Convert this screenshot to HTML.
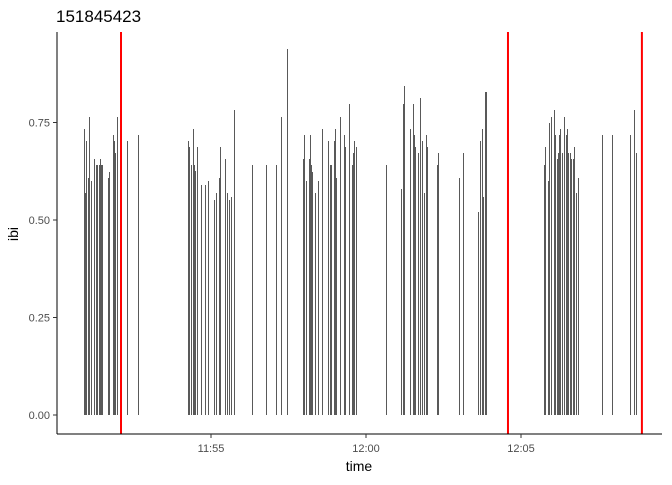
<!DOCTYPE html>
<html><head><meta charset="utf-8"><style>
body{margin:0;background:#fff;font-family:"Liberation Sans",sans-serif}
</style></head><body>
<svg id="chart" width="672" height="480">
<rect width="672" height="480" fill="#fff"/>
<text x="56" y="22" font-size="17" fill="#000">151845423</text>
<g id="bars" shape-rendering="crispEdges"></g>
<g id="vlines"></g>
<line x1="57" y1="32" x2="57" y2="434" stroke="#000" stroke-width="1"/>
<line x1="57" y1="434" x2="662" y2="434" stroke="#000" stroke-width="1"/>
<g id="yticks"></g>
<g id="xticks"></g>
<text x="359" y="471" font-size="14" text-anchor="middle" fill="#000">time</text>
<text x="18" y="234" font-size="14" text-anchor="middle" fill="#000" transform="rotate(-90 18 234)">ibi</text>
</svg>
<script>
// minutes since 11:50
const times=[0.903,0.968,1.032,1.065,1.226,1.29,1.323,1.387,1.419,1.452,1.484,1.677,1.71,1.839,1.871,1.903,1.968,2.29,2.645,
4.258,4.29,4.355,4.419,4.452,4.484,4.548,4.806,5.258,5.29,5.452,5.742,6.323,6.774,7.097,7.258,7.452,7.968,8.0,8.161,8.194,8.226,8.258,8.581,8.774,8.839,8.871,8.968,9.0,9.032,9.161,9.29,9.323,9.452,9.548,9.581,9.613,9.677,10.645,
11.194,11.226,11.419,11.516,11.548,11.581,11.677,11.742,11.806,11.935,11.968,12.29,12.323,13.0,13.129,13.677,13.742,13.839,13.871,
15.742,15.774,15.903,15.968,16.065,16.097,16.161,16.194,16.226,16.258,16.323,16.387,16.452,16.484,16.516,16.581,16.613,16.677,16.71,16.839,17.613,17.935,18.516,18.645,18.71,
0.935,1.129,4.677,4.903,5.097,5.161,5.516,5.58,5.645,8.065,8.355,8.452,11.129,11.871,13.613,13.774,15.871,16.774];
const ibi=[0.733,0.703,0.608,0.764,0.656,0.641,0.641,0.641,0.656,0.641,0.641,0.608,0.623,0.718,0.703,0.672,0.764,0.703,0.718,
0.703,0.687,0.641,0.733,0.641,0.626,0.687,0.59,0.608,0.687,0.656,0.782,0.641,0.641,0.641,0.764,0.938,0.656,0.718,0.656,0.718,0.641,0.623,0.733,0.703,0.641,0.641,0.703,0.733,0.608,0.764,0.718,0.687,0.797,0.641,0.672,0.703,0.687,0.641,
0.797,0.844,0.733,0.797,0.718,0.687,0.672,0.813,0.703,0.718,0.687,0.641,0.672,0.608,0.672,0.703,0.733,0.828,0.828,
0.641,0.687,0.749,0.764,0.782,0.718,0.656,0.672,0.718,0.733,0.672,0.764,0.718,0.733,0.672,0.672,0.656,0.656,0.687,0.608,0.718,0.718,0.718,0.782,0.672,
0.57,0.6,0.59,0.6,0.55,0.57,0.57,0.55,0.56,0.6,0.57,0.6,0.58,0.57,0.52,0.56,0.6,0.57];
const events=[2.097,14.58,18.9];
const yTicks=[0,0.25,0.5,0.75];
const yLabels=["0.00","0.25","0.50","0.75"];
const xTicks=[5,10,15];
const xLabels=["11:55","12:00","12:05"];
const NS="http://www.w3.org/2000/svg";
const xs=m=>56+m*31, ys=v=>415-v*390;
const bars=document.getElementById('bars');
times.forEach((t,i)=>{const l=document.createElementNS(NS,'rect');
const x=Math.round(xs(t));const y=Math.round(ys(ibi[i]));
l.setAttribute('x',x);l.setAttribute('y',y);l.setAttribute('width',1);l.setAttribute('height',Math.round(ys(0))-y);
l.setAttribute('fill','#595959');


bars.appendChild(l);});
const vl=document.getElementById('vlines');
events.forEach(t=>{const l=document.createElementNS(NS,'line');
l.setAttribute('x1',xs(t));l.setAttribute('x2',xs(t));l.setAttribute('y1',32);l.setAttribute('y2',434);
l.setAttribute('stroke','#ff0000');l.setAttribute('stroke-width','2');


vl.appendChild(l);});
const yt=document.getElementById('yticks');
yTicks.forEach((v,i)=>{const y=ys(v);
const tk=document.createElementNS(NS,'line');tk.setAttribute('x1',53);tk.setAttribute('x2',57);tk.setAttribute('y1',y);tk.setAttribute('y2',y);tk.setAttribute('stroke','#333');


yt.appendChild(tk);
const tx=document.createElementNS(NS,'text');tx.setAttribute('x',50);tx.setAttribute('y',y+4);tx.setAttribute('text-anchor','end');tx.setAttribute('font-size','11');tx.setAttribute('fill','#4d4d4d');tx.textContent=yLabels[i];


yt.appendChild(tx);});
const xt=document.getElementById('xticks');
xTicks.forEach((m,i)=>{const x=xs(m);
const tk=document.createElementNS(NS,'line');tk.setAttribute('x1',x);tk.setAttribute('x2',x);tk.setAttribute('y1',434);tk.setAttribute('y2',438);tk.setAttribute('stroke','#333');


xt.appendChild(tk);
const tx=document.createElementNS(NS,'text');tx.setAttribute('x',x);tx.setAttribute('y',452);tx.setAttribute('text-anchor','middle');tx.setAttribute('font-size','11');tx.setAttribute('fill','#4d4d4d');tx.textContent=xLabels[i];


xt.appendChild(tx);});
</script>
</body></html>
